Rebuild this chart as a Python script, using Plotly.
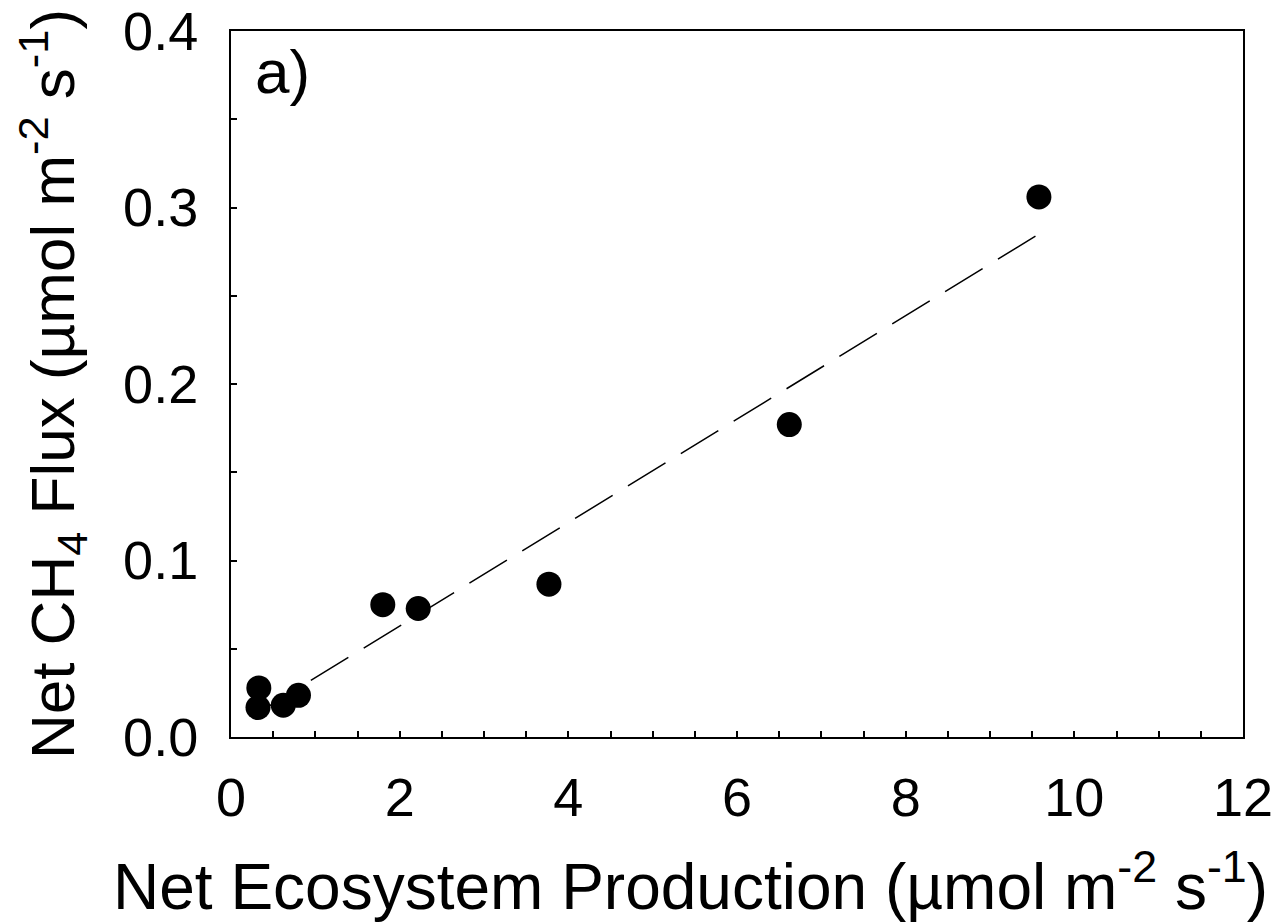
import plotly.graph_objects as go

# Data
nep = [0.33, 0.32, 0.62, 0.80, 1.80, 2.22, 3.77, 6.62, 9.58]
ch4 = [0.0278, 0.0167, 0.0180, 0.0236, 0.0750, 0.0728, 0.0866, 0.1770, 0.3060]

# Regression line
fit_x = [0.32, 9.58]
fit_slope = 0.0293
fit_intercept = 0.0043
fit_y = [fit_slope * v + fit_intercept for v in fit_x]

x_ticks = [0, 2, 4, 6, 8, 10, 12]
y_ticks = [0.0, 0.1, 0.2, 0.3, 0.4]
y_ticklabels = ["0.0", "0.1", "0.2", "0.3", "0.4"]

FONT = "Liberation Sans, Arial, sans-serif"
TICK_SIZE = 54
TITLE_SIZE = 64

fig = go.Figure()
fig.add_trace(go.Scatter(
    x=fit_x, y=fit_y, mode="lines",
    line=dict(color="black", width=1.5, dash="44px,18px"),
    showlegend=False, hoverinfo="skip"))
fig.add_trace(go.Scatter(
    x=nep, y=ch4, mode="markers",
    marker=dict(color="black", size=25, line=dict(width=0)),
    showlegend=False))

fig.add_annotation(x=0.26, y=0.377, xref="x", yref="y", text="a)",
                   showarrow=False, xanchor="left", yanchor="middle",
                   font=dict(family=FONT, size=62, color="black"))

# x-axis title (placed as annotation: it sits left of the plot centre in the reference)
fig.add_annotation(x=0.4536, y=-0.205, xref="paper", yref="paper",
                   text="Net Ecosystem Production (µmol m<sup>-2</sup> s<sup>-1</sup>)",
                   showarrow=False, xanchor="center", yanchor="middle",
                   font=dict(family=FONT, size=TITLE_SIZE, color="black"))

fig.update_layout(
    width=1278, height=923,
    margin=dict(l=231, r=35, t=31, b=186),
    paper_bgcolor="white", plot_bgcolor="white",
    font=dict(family=FONT, color="black"),
    showlegend=False,
)
fig.update_xaxes(
    range=[0, 12], tickvals=x_ticks, ticktext=[str(v) for v in x_ticks],
    ticks="inside", ticklen=6, tickwidth=1.5, tickcolor="black",
    minor=dict(dtick=0.5, tick0=0, ticks="inside", ticklen=6, tickwidth=1.5, tickcolor="black"),
    showline=True, linecolor="black", linewidth=2, mirror=True,
    showgrid=False, zeroline=False, automargin=False,
    tickfont=dict(family=FONT, size=TICK_SIZE), ticklabelstandoff=12,
)
fig.update_yaxes(
    range=[0, 0.4], tickvals=y_ticks, ticktext=y_ticklabels,
    ticks="inside", ticklen=6, tickwidth=1.5, tickcolor="black",
    minor=dict(dtick=0.05, tick0=0, ticks="inside", ticklen=6, tickwidth=1.5, tickcolor="black"),
    showline=True, linecolor="black", linewidth=2, mirror=True,
    showgrid=False, zeroline=False, automargin=False,
    tickfont=dict(family=FONT, size=TICK_SIZE), ticklabelstandoff=20,
    title=dict(text="Net CH<sub>4</sub> Flux (µmol m<sup>-2</sup> s<sup>-1</sup>)",
               font=dict(family=FONT, size=62), standoff=28),
)

fig.write_html("out.html")
